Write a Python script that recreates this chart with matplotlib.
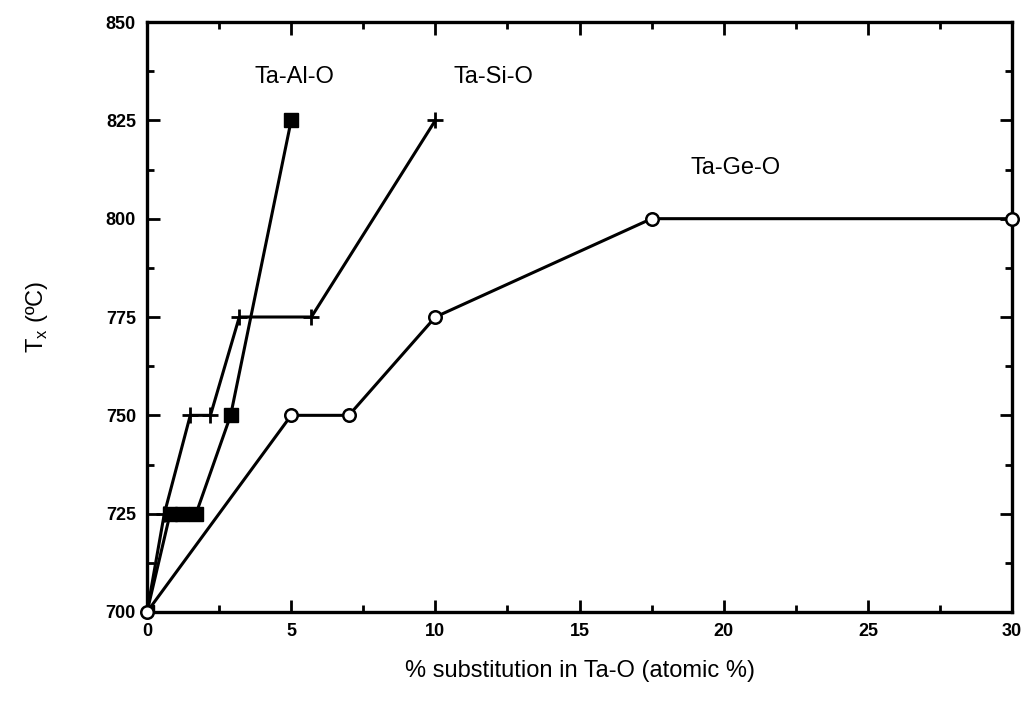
import matplotlib
matplotlib.use("Agg")
import matplotlib.pyplot as plt
from matplotlib.ticker import MultipleLocator

plt.rcParams['font.family'] = ['Liberation Sans', 'DejaVu Sans']

# Ta-Al-O (filled squares)
al_x = [0, 0.8, 1.2, 1.7, 2.9, 5]
al_y = [700, 725, 725, 725, 750, 825]

# Ta-Si-O (crosses)
si_x = [0, 0.6, 1.5, 2.2, 3.2, 5.7, 10]
si_y = [700, 725, 750, 750, 775, 775, 825]

# Ta-Ge-O (open circles)
ge_x = [0, 5, 7, 10, 17.5, 30]
ge_y = [700, 750, 750, 775, 800, 800]

labels = ['Ta-Al-O', 'Ta-Si-O', 'Ta-Ge-O']
label_pos = [(5.1, 836), (12.0, 836), (20.4, 813)]


def main():
    fig = plt.figure(figsize=(10.26, 7.08), dpi=100)
    ax = fig.add_axes([0.1433, 0.1356, 0.8431, 0.8333])

    ax.plot(si_x, si_y, color='black', lw=2.2, marker='+', ms=11, mew=2)
    ax.plot(al_x, al_y, color='black', lw=2.2, marker='s', ms=10,
            mfc='black', mec='black')
    ax.plot(ge_x, ge_y, color='black', lw=2.2, marker='o', ms=9,
            mfc='white', mec='black', mew=1.8, clip_on=False, zorder=5)

    for txt, (x, y) in zip(labels, label_pos):
        ax.text(x, y, txt, fontsize=17, ha='center', va='center')

    ax.set_xlim(0, 30)
    ax.set_ylim(700, 850)
    ax.xaxis.set_major_locator(MultipleLocator(5))
    ax.xaxis.set_minor_locator(MultipleLocator(2.5))
    ax.yaxis.set_major_locator(MultipleLocator(25))
    ax.yaxis.set_minor_locator(MultipleLocator(12.5))
    ax.tick_params(which='both', direction='in', top=True, right=True,
                   width=2, labelsize=13)
    ax.tick_params(which='major', length=9, pad=8)
    ax.tick_params(which='minor', length=5)
    for t in ax.get_xticklabels() + ax.get_yticklabels():
        t.set_fontweight('bold')
    for s in ax.spines.values():
        s.set_linewidth(2.4)

    ax.set_xlabel('% substitution in Ta-O (atomic %)', fontsize=17, labelpad=14)
    ax.set_ylabel(r'T$_\mathregular{x}$ (ºC)', fontsize=17, labelpad=40)

    fig.savefig('out.png', dpi=100)


if __name__ == "__main__":
    main()
